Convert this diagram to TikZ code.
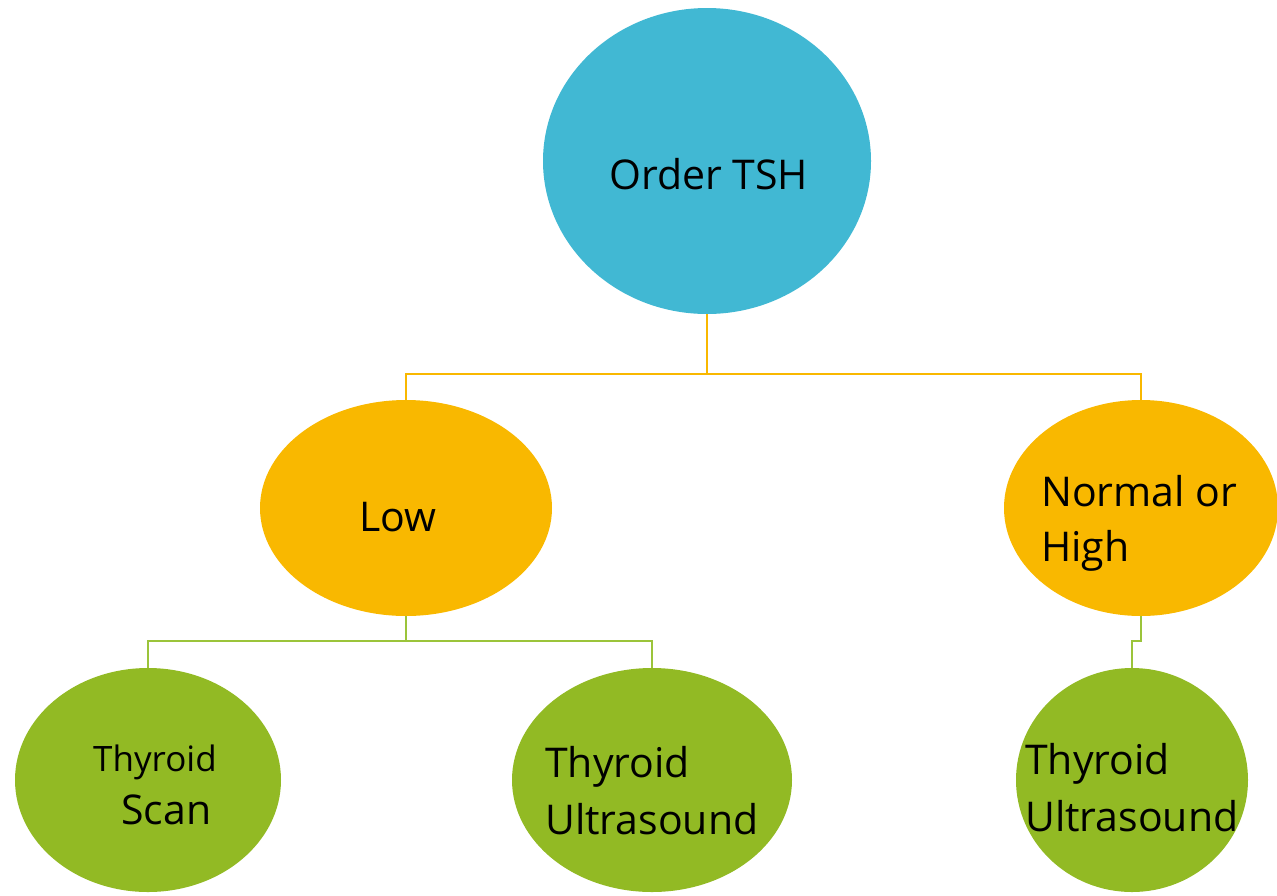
\documentclass[tikz,border=0pt]{standalone}
\usepackage{fontspec}
\setmainfont{Open Sans}
\usetikzlibrary{shapes.geometric}
\definecolor{cblue}{HTML}{41B8D3}
\definecolor{corange}{HTML}{F9B800}
\definecolor{cgreen}{HTML}{92BA24}
\definecolor{lgreen}{HTML}{9BC43A}
\tikzset{
  bub/.style={ellipse, inner sep=0pt, minimum width=#1},
  lbl/.style={anchor=base west, inner sep=0pt, font=\fontsize{41}{48}\selectfont},
  olink/.style={draw=corange, line width=1.3pt},
  glink/.style={draw=lgreen, line width=1.3pt},
}
\begin{document}
\begin{tikzpicture}[x=1pt,y=-1pt]
\useasboundingbox (0,0) rectangle (1277,895);
\node[bub=328pt, minimum height=306pt, fill=cblue] (tsh) at (707,161) {};
\node[bub=292pt, minimum height=216pt, fill=corange] (low) at (406,508) {};
\node[bub=274pt, minimum height=216pt, fill=corange] (nh) at (1141,508) {};
\node[bub=266pt, minimum height=224pt, fill=cgreen] (scan) at (148,780) {};
\node[bub=280pt, minimum height=224pt, fill=cgreen] (us1) at (652,780) {};
\node[bub=232pt, minimum height=224pt, fill=cgreen] (us2) at (1132,780) {};
\coordinate (j1) at (707,374);
\coordinate (j2) at (406,641);
\coordinate (j3) at (1141,641);
\draw[olink] (tsh.south) -- (j1);
\draw[olink] (j1) -| (low.north);
\draw[olink] (j1) -| (nh.north);
\draw[glink] (low.south) -- (j2);
\draw[glink] (j2) -| (scan.north);
\draw[glink] (j2) -| (us1.north);
\draw[glink] (nh.south) -- (j3) -| (us2.north);
\node[lbl] (t1) at (609,189) {Order TSH};
\node[lbl] (t2) at (359,531) {Low};
\node[lbl] (t3) at (1041,506) {Normal or};
\node[lbl] (t4) at (1041,561) {High};
\node[lbl, font=\fontsize{35}{40}\selectfont] (t5) at (93,771) {Thyroid};
\node[lbl] (t6) at (121,824) {Scan};
\node[lbl] (t7) at (545,777) {Thyroid};
\node[lbl] (t8) at (545,834) {Ultrasound};
\node[lbl] (t9) at (1025,774) {Thyroid};
\node[lbl] (t10) at (1025,831) {Ultrasound};
\end{tikzpicture}
\end{document}
